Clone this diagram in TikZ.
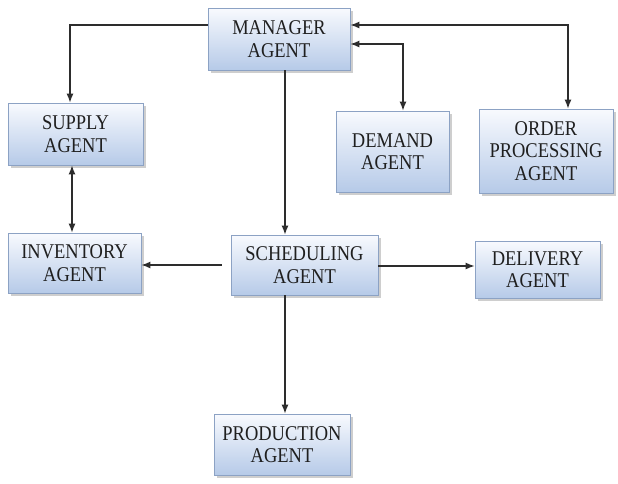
\documentclass[tikz,border=0pt]{standalone}
\usepackage{fontspec}
\setmainfont{Liberation Serif}[FakeStretch=0.88]
\usetikzlibrary{arrows.meta,shadows,calc}
\definecolor{boxtop}{RGB}{248,250,254}
\definecolor{boxbottom}{RGB}{182,202,232}
\definecolor{boxedge}{RGB}{140,162,196}
\definecolor{linkgray}{RGB}{45,45,45}
\begin{document}
\begin{tikzpicture}[x=1pt,y=-1pt,
  agent/.style={draw=boxedge, line width=0.7pt, top color=boxtop, bottom color=boxbottom,
    align=center, inner sep=0pt, text=black!88,
    font=\fontsize{21}{22.5}\selectfont,
    drop shadow={shadow xshift=2.5pt, shadow yshift=-2.5pt, opacity=0.35, fill=black!55}},
  link/.style={line width=1.4pt, draw=linkgray, -{Latex[length=9pt,width=7pt]}},
  twoway/.style={line width=1.4pt, draw=linkgray, {Latex[length=9pt,width=7pt]}-{Latex[length=9pt,width=7pt]}}
]
\fill[white] (0,0) rectangle (618,483);
\useasboundingbox (0,0) rectangle (618,483);

% agent boxes
\node[agent, minimum width=142pt, minimum height=62pt] (manager) at (279,39) {MANAGER\\AGENT};
\node[agent, minimum width=135pt, minimum height=62pt] (supply) at (75.5,134) {SUPPLY\\AGENT};
\node[agent, minimum width=113pt, minimum height=81pt] (demand) at (392.5,151.5) {DEMAND\\AGENT};
\node[agent, minimum width=134pt, minimum height=84pt] (order) at (546,151) {ORDER\\PROCESSING\\AGENT};
\node[agent, minimum width=133pt, minimum height=60pt] (inventory) at (74.5,263) {INVENTORY\\AGENT};
\node[agent, minimum width=147pt, minimum height=60pt] (scheduling) at (304.5,265) {SCHEDULING\\AGENT};
\node[agent, minimum width=125pt, minimum height=57pt] (delivery) at (537.5,269.5) {DELIVERY\\AGENT};
\node[agent, minimum width=136pt, minimum height=61pt] (production) at (282,444.5) {PRODUCTION\\AGENT};

% bend points of the routed connectors
\coordinate (mgrL) at (manager.west |- 0,25);
\coordinate (supTop) at (70,0);
\coordinate (dmdTop) at (403,0);
\coordinate (ordTop) at (568,0);
\coordinate (spine) at (285,0);

% connectors
\draw[link] (mgrL) -| (supply.north -| supTop);
\draw[link] (manager.south -| spine) -- (scheduling.north -| spine);
\draw[twoway] (manager.east |- 0,44) -| (demand.north -| dmdTop);
\draw[twoway] (manager.east |- 0,25) -| (order.north -| ordTop);
\draw[twoway] (supply.south -| 72,0) -- (inventory.north -| 72,0);
\draw[link] ($(scheduling.west |- 0,265)+(-9,0)$) -- (inventory.east |- 0,265);
\draw[link] (scheduling.east |- 0,266) -- (delivery.west |- 0,266);
\draw[link] (scheduling.south -| spine) -- (production.north -| spine);
\end{tikzpicture}
\end{document}
